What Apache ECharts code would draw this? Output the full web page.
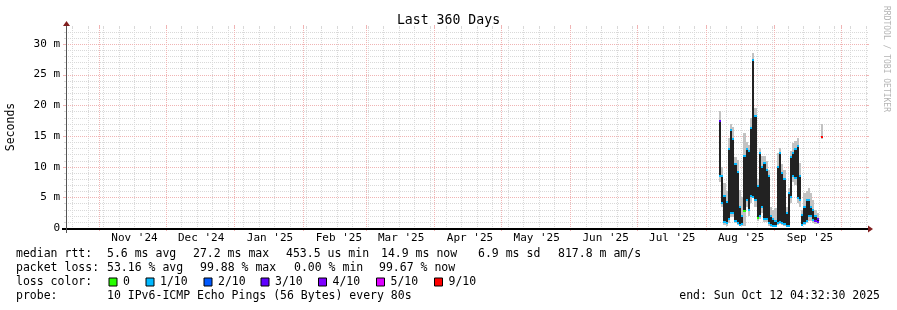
<!DOCTYPE html>
<html><head><meta charset="utf-8">
<script src="https://cdn.jsdelivr.net/npm/echarts@6/dist/echarts.min.js"></script>
<style>html,body{margin:0;padding:0;background:#fff}#c{width:897px;height:310px}</style>
</head><body><div id="c"></div>
<script>
// ---------------- data ----------------
const chartTitle = 'Last 360 Days';
const yAxisTitle = 'Seconds';
const watermark = 'RRDTOOL / TOBI OETIKER';
const rangeStart = '2024-10-17T04:32:30Z';
const rangeEnd = '2025-10-12T04:32:30Z';
const firstWeekLine = '2024-10-20T00:00:00Z';
const monthStarts = ['2024-11-01','2024-12-01','2025-01-01','2025-02-01','2025-03-01','2025-04-01','2025-05-01','2025-06-01','2025-07-01','2025-08-01','2025-09-01','2025-10-01'];
const monthLabels = ["Nov '24","Dec '24","Jan '25","Feb '25","Mar '25","Apr '25","May '25","Jun '25","Jul '25","Aug '25","Sep '25"];
const yTickValues = [0, 5, 10, 15, 20, 25, 30];
const yTickLabels = ['0', '5 m', '10 m', '15 m', '20 m', '25 m', '30 m'];
const yMax = 32.6;

// one column per day (milliseconds)
const sampleDays = ['2025-08-07','2025-08-08','2025-08-09','2025-08-10','2025-08-11','2025-08-12','2025-08-13','2025-08-14','2025-08-15','2025-08-16','2025-08-17','2025-08-18','2025-08-19','2025-08-20','2025-08-21','2025-08-22','2025-08-23','2025-08-24','2025-08-25','2025-08-26','2025-08-27','2025-08-28','2025-08-29','2025-08-30','2025-08-31','2025-09-01','2025-09-02','2025-09-03','2025-09-04','2025-09-05','2025-09-06','2025-09-07','2025-09-08','2025-09-09','2025-09-10','2025-09-11','2025-09-12','2025-09-13','2025-09-14','2025-09-15','2025-09-16','2025-09-17','2025-09-18','2025-09-19','2025-09-20','2025-09-22'];
const smokeHigh  = [19.0,10.0,7.4,6.0,14.7,17.0,16.5,11.5,11.1,6.2,5.0,15.5,14.0,13.5,18.0,28.5,19.6,8.0,13.0,11.7,11.7,11.0,9.4,3.5,3.0,3.2,12.2,13.0,10.5,9.5,3.5,6.5,12.5,13.9,14.1,14.7,10.6,3.0,5.7,6.0,6.5,5.7,4.5,3.0,2.5,17.0];
const medianHigh = [17.4,8.4,5.2,4.3,12.8,16.0,14.5,10.5,9.2,3.5,2.0,11.7,12.8,12.5,16.3,27.4,18.2,6.8,12.2,10.0,10.6,9.5,8.4,1.9,1.5,1.2,10.0,12.2,9.0,8.0,2.5,5.7,11.6,12.2,12.8,13.3,8.4,2.2,3.5,4.6,4.6,3.5,3.0,1.9,1.5,14.8];
const medianLow  = [8.4,4.0,0.9,0.8,1.5,2.4,2.4,1.2,0.8,0.5,0.6,2.7,4.6,3.0,5.2,5.1,4.6,1.6,2.0,3.5,1.4,1.4,0.8,0.5,0.4,0.3,0.8,1.0,0.8,0.6,0.3,0.3,5.1,8.4,8.2,4.9,4.6,0.5,0.8,1.2,2.0,1.9,1.3,1.1,1.0,14.8];
const smokeLow   = [7.5,3.5,0.5,0.4,0.8,1.8,1.8,0.8,0.5,0.3,0.3,0.3,3.5,2.0,4.0,10.0,3.5,1.2,1.5,2.5,0.9,0.9,0.4,0.2,0.2,0.2,0.5,0.6,0.5,0.3,0.2,0.2,4.0,7.5,7.0,4.0,3.5,0.3,0.5,0.8,1.2,1.2,0.8,0.7,0.7,14.5];
const lossTop    = [3,1,1,1,1,1,1,1,1,1,1,1,1,1,1,1,1,1,1,1,1,1,1,1,1,1,1,1,1,1,1,1,1,1,1,1,1,1,1,1,1,1,1,1,3,6];
const lossBottom = [1,1,1,1,1,1,1,1,1,1,1,0,1,1,1,1,1,0,1,1,1,1,1,1,1,1,1,1,1,1,1,1,1,1,1,1,1,1,1,1,1,1,1,3,3,6];

const lossColors = ['#26ff00','#00b8ff','#0059ff','#5e00ff','#7e00ff','#dd00ff','#ff0000'];
const lossNames  = ['0','1/10','2/10','3/10','4/10','5/10','9/10'];
const rttLabel = 'median rtt:';
const rttStats = ['5.6 ms avg','27.2 ms max','453.5 us min','14.9 ms now','6.9 ms sd','817.8 m am/s'];
const lossLabel = 'packet loss:';
const lossStats = ['53.16 % avg','99.88 % max','0.00 % min','99.67 % now'];
const colorLabel = 'loss color:';
const probeLabel = 'probe:';
const probeText = '10 IPv6-ICMP Echo Pings (56 Bytes) every 80s';
const endText = 'end: Sun Oct 12 04:32:30 2025';

// ---------------- layout / style ----------------
const G = {left: 66, top: 28, width: 800, height: 200};
const MONO = '"DejaVu Sans Mono", monospace';
const GRID_C = '#d9d9d9';
const MGRID_C = '#f0b4b4';
const ARROW_C = '#801f1f';
const DAY = 86400000;
const LABEL_SHIFT = 16 * DAY;

const startT = Date.parse(rangeStart), endT = Date.parse(rangeEnd);
const weekTimes = [];
for (let t = Date.parse(firstWeekLine); t <= endT; t += 7 * DAY) weekTimes.push(t);
const monthTimes = monthStarts.map(s => Date.parse(s + 'T00:00:00Z'));
const labelTimes = monthLabels.map((_, i) => monthTimes[i] + LABEL_SHIFT);
const yMinor = [];
for (let v = 1; v <= Math.floor(yMax); v++) if (yTickValues.indexOf(v) < 0) yMinor.push(v);

function vLine(color, stub) {
  return function (params, api) {
    const cs = params.coordSys;
    const x = Math.round(api.coord([api.value(0), 0])[0]) + 0.5;
    const top = cs.y, bot = cs.y + cs.height;
    return {type: 'group', children: [
      {type: 'line', shape: {x1: x, y1: top, x2: x, y2: bot}, style: {stroke: color, lineWidth: 1, lineDash: [1, 1]}},
      {type: 'line', shape: {x1: x, y1: top - stub, x2: x, y2: top}, style: {stroke: color, lineWidth: 1}},
      {type: 'line', shape: {x1: x, y1: bot, x2: x, y2: bot + stub}, style: {stroke: color, lineWidth: 1}}
    ]};
  };
}
function hLine(color, stub) {
  return function (params, api) {
    const cs = params.coordSys;
    const y = Math.round(api.coord([startT, api.value(1)])[1]) + 0.5;
    const l = cs.x, r = cs.x + cs.width;
    return {type: 'group', children: [
      {type: 'line', shape: {x1: l, y1: y, x2: r, y2: y}, style: {stroke: color, lineWidth: 1, lineDash: [1, 1]}},
      {type: 'line', shape: {x1: l - stub, y1: y, x2: l, y2: y}, style: {stroke: color, lineWidth: 1}},
      {type: 'line', shape: {x1: r, y1: y, x2: r + stub, y2: y}, style: {stroke: color, lineWidth: 1}}
    ]};
  };
}
function smokeItem(params, api) {
  const t0 = api.value(0);
  const xa = Math.round(api.coord([t0, 0])[0]);
  const xb = Math.round(api.coord([t0 + DAY, 0])[0]);
  const w = Math.max(1, xb - xa);
  const y = v => Math.round(api.coord([t0, v])[1]);
  const sH = y(api.value(1)), mH = y(api.value(2)), mL = y(api.value(3)), sL = y(api.value(4));
  const cTop = lossColors[api.value(5)], cBot = lossColors[api.value(6)];
  return {type: 'group', children: [
    {type: 'rect', shape: {x: xa, y: sH, width: w, height: Math.max(1, sL - sH)}, style: {fill: '#c2c2c2'}},
    {type: 'rect', shape: {x: xa, y: mH, width: w, height: Math.max(1, mL - mH)}, style: {fill: '#222222'}},
    {type: 'rect', shape: {x: xa, y: mH - 1, width: w, height: 2}, style: {fill: cTop}},
    {type: 'rect', shape: {x: xa, y: mL - 1, width: w, height: 2}, style: {fill: cBot}}
  ]};
}

const smokeData = sampleDays.map((d, i) => [Date.parse(d.length > 10 ? d : d + 'T00:00:00Z'), smokeHigh[i], medianHigh[i], medianLow[i], smokeLow[i], lossTop[i], lossBottom[i]]);

// legend graphics
const TXT = (text, x, y, extra) => Object.assign({type: 'text', x: x, y: y, silent: true,
  style: {text: text, fill: '#000', font: '11.5px ' + MONO, verticalAlign: 'middle'}}, extra || {});
const rowY = [254.5, 268.5, 282.5, 296.5];
const rttX = [107, 193, 286, 381, 478, 558];
const lossX = [107, 200, 294, 379];
const boxX = [108.5, 145.5, 203.5, 260.5, 318, 376, 434];
const graphics = [];
graphics.push(TXT(rttLabel, 16, rowY[0]));
rttStats.forEach((s, i) => graphics.push(TXT(s, rttX[i], rowY[0])));
graphics.push(TXT(lossLabel, 16, rowY[1]));
lossStats.forEach((s, i) => graphics.push(TXT(s, lossX[i], rowY[1])));
graphics.push(TXT(colorLabel, 16, rowY[2]));
lossNames.forEach((s, i) => {
  graphics.push({type: 'rect', shape: {x: boxX[i] + 0.5, y: rowY[2] - 4.5, width: 8, height: 8}, style: {fill: lossColors[i], stroke: '#000', lineWidth: 1}});
  graphics.push(TXT(s, boxX[i] + 14.5, rowY[2]));
});
graphics.push(TXT(probeLabel, 16, rowY[3]));
graphics.push(TXT(probeText, 107, rowY[3]));
graphics.push(TXT(endText, 880, rowY[3], {style: {text: endText, fill: '#000', font: '11.5px ' + MONO, verticalAlign: 'middle', align: 'right'}}));
graphics.push({type: 'text', x: 11, y: 127, rotation: Math.PI / 2, silent: true,
  style: {text: yAxisTitle, fill: '#000', font: '11.5px ' + MONO, align: 'center', verticalAlign: 'middle'}});
graphics.push({type: 'text', x: 886, y: 59, rotation: -Math.PI / 2, silent: true,
  style: {text: watermark, fill: '#b4b4b4', font: '8px ' + MONO, align: 'center', verticalAlign: 'middle'}});
// axis extensions and arrows
const x0 = G.left + 0.5, yb = G.top + G.height + 1, xr = G.left + G.width, yt = G.top;
graphics.push({type: 'line', z: 50, shape: {x1: G.left - 4, y1: yb, x2: xr + 4, y2: yb}, style: {stroke: '#000', lineWidth: 2}});
graphics.push({type: 'line', z: 50, shape: {x1: x0, y1: yb + 4, x2: x0, y2: yt - 4}, style: {stroke: '#555', lineWidth: 1}});
graphics.push({type: 'polygon', z: 51, shape: {points: [[xr + 2, yb - 3.5], [xr + 2, yb + 3.5], [xr + 7, yb]]}, style: {fill: ARROW_C}});
graphics.push({type: 'polygon', z: 51, shape: {points: [[x0 - 3.5, yt - 2], [x0 + 3.5, yt - 2], [x0, yt - 7]]}, style: {fill: ARROW_C}});

const chart = echarts.init(document.getElementById('c'), null, {renderer: 'canvas', width: 897, height: 310});
chart.setOption({
  animation: false,
  backgroundColor: '#ffffff',
  title: {text: chartTitle, left: 'center', top: 9, textStyle: {fontFamily: MONO, fontSize: 13.2, fontWeight: 'normal', color: '#000'}},
  grid: {left: G.left, top: G.top, width: G.width, height: G.height, containLabel: false},
  xAxis: {
    type: 'value', min: startT, max: endT, scale: true,
    axisLine: {show: false},
    axisTick: {show: false},
    splitLine: {show: false},
    axisLabel: {customValues: labelTimes, margin: 5, color: '#000', fontFamily: MONO, fontSize: 11,
      formatter: v => { const i = labelTimes.indexOf(v); return i >= 0 ? monthLabels[i] : ''; },
      showMinLabel: true, showMaxLabel: true, hideOverlap: false}
  },
  yAxis: {
    type: 'value', min: 0, max: yMax,
    axisLine: {show: false},
    axisTick: {show: false},
    splitLine: {show: false},
    axisLabel: {customValues: yTickValues, margin: 6, color: '#000', fontFamily: MONO, fontSize: 11,
      formatter: v => { const i = yTickValues.indexOf(v); return i >= 0 ? yTickLabels[i] : ''; }}
  },
  series: [
    {type: 'custom', name: 'week grid', z: 1, silent: true, renderItem: vLine(GRID_C, 2), data: weekTimes.map(t => [t, 0])},
    {type: 'custom', name: 'minor y grid', z: 1, silent: true, renderItem: hLine(GRID_C, 2), data: yMinor.map(v => [startT, v])},
    {type: 'custom', name: 'month grid', z: 1, silent: true, renderItem: vLine(MGRID_C, 3), data: monthTimes.map(t => [t, 0])},
    {type: 'custom', name: 'major y grid', z: 1, silent: true, renderItem: hLine(MGRID_C, 3), data: yTickValues.filter(v => v > 0).map(v => [startT, v])},
    {type: 'custom', name: 'median rtt', z: 5, silent: true, renderItem: smokeItem, data: smokeData, clip: true}
  ],
  graphic: graphics
});
</script>
</body></html>
